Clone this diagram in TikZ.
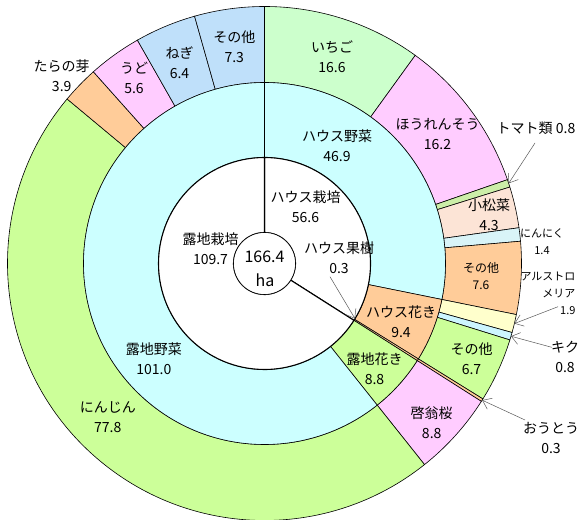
\documentclass[tikz,border=0pt]{standalone}
\usepackage{fontspec}
\setmainfont{Noto Sans CJK JP}
\usetikzlibrary{arrows.meta}
\definecolor{ichigoGreen}{HTML}{CCFFCC}
\definecolor{pinkPart}{HTML}{FFCCFF}
\definecolor{tomatoGreen}{HTML}{CCEEA8}
\definecolor{komatsunaPeach}{HTML}{FCE4D6}
\definecolor{ninnikuCyan}{HTML}{D9F4F8}
\definecolor{orangePart}{HTML}{FFCC99}
\definecolor{alstroYellow}{HTML}{FFFFCC}
\definecolor{kikuCyan}{HTML}{CCF5FF}
\definecolor{greenPart}{HTML}{CCFF99}
\definecolor{cyanPart}{HTML}{CCFFFF}
\definecolor{bluePart}{HTML}{BFE0FA}

\begin{document}
\begin{tikzpicture}[x=1pt,y=1pt,
                    wedge/.style={draw=black,line width=0.6pt},
                    lbl/.style={align=center,font=\fontsize{14}{20}\selectfont},
                    small/.style={align=center,font=\fontsize{11}{17}\selectfont},
                    leader/.style={draw=black!65,line width=0.5pt,-{Straight Barb[length=8pt,width=12pt]}}]
\useasboundingbox (0,0) rectangle (583,519);
\begin{scope}[shift={(264.5,255.5)}]
    % outer ring
    \foreach \a/\b/\c in {0/16.6/ichigoGreen, 16.6/32.8/pinkPart, 32.8/33.6/tomatoGreen,
                          33.6/37.9/komatsunaPeach, 37.9/39.3/ninnikuCyan, 39.3/46.9/orangePart,
                          46.9/48.8/alstroYellow, 48.8/49.6/kikuCyan, 49.6/56.3/greenPart,
                          56.3/56.6/orangePart, 56.6/65.4/pinkPart, 65.4/143.2/greenPart,
                          143.2/147.1/orangePart, 147.1/152.7/pinkPart, 152.7/159.1/bluePart,
                          159.1/166.4/bluePart} {
        \pgfmathsetmacro\ta{90-\a*2.163462}
        \pgfmathsetmacro\tb{90-\b*2.163462}
        \filldraw[wedge,fill=\c] (\ta:181pt) arc[start angle=\ta,end angle=\tb,radius=181pt]
            -- (\tb:257pt) arc[start angle=\tb,end angle=\ta,radius=257pt] -- cycle;
    }
    % middle ring
    \foreach \a/\b/\c in {0/46.9/cyanPart, 46.9/56.3/orangePart, 56.3/56.6/orangePart,
                          56.6/65.4/greenPart, 65.4/166.4/cyanPart} {
        \pgfmathsetmacro\ta{90-\a*2.163462}
        \pgfmathsetmacro\tb{90-\b*2.163462}
        \filldraw[wedge,fill=\c] (\ta:106pt) arc[start angle=\ta,end angle=\tb,radius=106pt]
            -- (\tb:181pt) arc[start angle=\tb,end angle=\ta,radius=181pt] -- cycle;
    }
    % inner ring
    \foreach \a/\b in {0/56.6, 56.6/166.4} {
        \pgfmathsetmacro\ta{90-\a*2.163462}
        \pgfmathsetmacro\tb{90-\b*2.163462}
        \filldraw[wedge,fill=white,line width=1.1pt] (\ta:31pt) arc[start angle=\ta,end angle=\tb,radius=31pt]
            -- (\tb:106pt) arc[start angle=\tb,end angle=\ta,radius=106pt] -- cycle;
    }
    \node[circle,draw,fill=white,line width=0.6pt,minimum size=62pt,inner sep=0pt] (total) at (0,0) {};
    % arrow tips
    \coordinate (tomatoTip) at ({90-33.2*2.163462}:257pt);
    \coordinate (alstroTip) at ({90-47.85*2.163462}:257pt);
    \coordinate (kikuTip) at ({90-49.2*2.163462}:257pt);
    \coordinate (outouTip) at ({90-56.45*2.163462}:257pt);
    \coordinate (kajuTip) at ({90-56.1*2.163462}:106pt);
\end{scope}

\node[font=\fontsize{16}{20}\selectfont] (totalNum) at (264.5,262.3) {166.4};
\node[font=\fontsize{16}{20}\selectfont] (totalUnit) at (265,239) {ha};

\node[lbl] (ichigo) at (332,462.3) {いちご\\16.6};
\node[lbl] (hourenso) at (437.5,385) {ほうれんそう\\16.2};
\node[lbl] (tomato) at (536,391) {トマト類 0.8};
\node[lbl] (komatsuna) at (489,304) {小松菜\\4.3};
\node[small] (ninniku) at (542,277.5) {にんにく\\1.4};
\node[align=center,font=\fontsize{12}{17}\selectfont] (hVegOther) at (481,243) {その他\\7.6};
\node[small,align=right,anchor=east] (alstro) at (579,226) {アルストロ\\メリア\\1.9};
\node[lbl] (kiku) at (565,162.5) {キク\\0.8};
\node[lbl] (hFlowerOther) at (471.5,160.7) {その他\\6.7};
\node[lbl] (outou) at (551,80.7) {おうとう\\0.3};
\node[lbl] (keiou) at (431.7,96) {啓翁桜\\8.8};
\node[lbl] (rochiKaki) at (374.5,150.7) {露地花き\\8.8};
\node[lbl] (houseKaki) at (401,197.3) {ハウス花き\\9.4};
\node[lbl] (houseKaju) at (339,261.7) {ハウス果樹\\0.3};
\node[lbl] (houseSaibai) at (305.5,312.7) {ハウス栽培\\56.6};
\node[lbl] (rochiSaibai) at (210.5,270.7) {露地栽培\\109.7};
\node[lbl] (houseYasai) at (337,373) {ハウス野菜\\46.9};
\node[lbl] (rochiYasai) at (153.8,160.7) {露地野菜\\101.0};
\node[lbl] (ninjin) at (107.8,102) {にんじん\\77.8};
\node[lbl] (taranome) at (61.7,442.8) {たらの芽\\3.9};
\node[lbl] (udo) at (134,440.7) {うど\\5.6};
\node[lbl] (negi) at (179.5,456.3) {ねぎ\\6.4};
\node[lbl] (rVegOther) at (234.3,472.3) {その他\\7.3};

% leaders
\coordinate (tomatoFrom) at (535,376);
\coordinate (alstroFrom) at (558,212.3);
\coordinate (kikuFrom) at (551.7,171.7);
\coordinate (outouFrom) at (525,99);
\coordinate (kajuFrom) at (330,242.3);
\draw[leader] (tomatoFrom) -- (tomatoTip);
\draw[leader] (alstroFrom) -- (alstroTip);
\draw[leader] (kikuFrom) -- (kikuTip);
\draw[leader] (outouFrom) -- (outouTip);
\draw[leader] (kajuFrom) -- (kajuTip);
\end{tikzpicture}
\end{document}
